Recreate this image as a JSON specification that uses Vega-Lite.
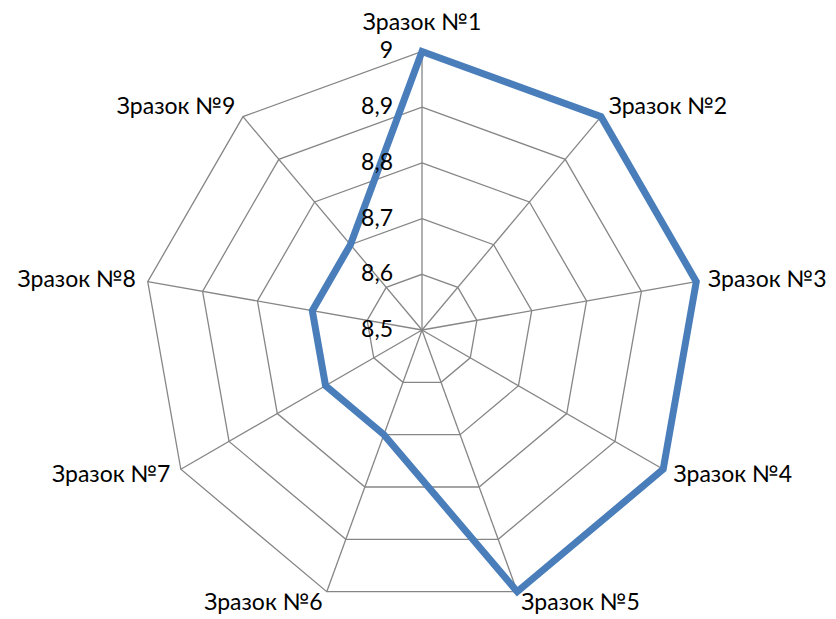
{
  "$schema": "https://vega.github.io/schema/vega-lite/v6.json",
  "width": 836,
  "height": 619,
  "padding": 0,
  "autosize": {"type": "none"},
  "background": "white",
  "config": {"view": {"stroke": null}, "text": {"font": "Lato", "fontSize": 23, "color": "#000000"}},
  "datasets": {
    "series": [
      {"sample": "Зразок №1", "i": 0, "value": 9.0},
      {"sample": "Зразок №2", "i": 1, "value": 9.0},
      {"sample": "Зразок №3", "i": 2, "value": 9.0},
      {"sample": "Зразок №4", "i": 3, "value": 9.0},
      {"sample": "Зразок №5", "i": 4, "value": 9.0},
      {"sample": "Зразок №6", "i": 5, "value": 8.7},
      {"sample": "Зразок №7", "i": 6, "value": 8.7},
      {"sample": "Зразок №8", "i": 7, "value": 8.7},
      {"sample": "Зразок №9", "i": 8, "value": 8.7}
    ],
    "grid": [
      {"level": 8.6, "i": [0, 1, 2, 3, 4, 5, 6, 7, 8]},
      {"level": 8.7, "i": [0, 1, 2, 3, 4, 5, 6, 7, 8]},
      {"level": 8.8, "i": [0, 1, 2, 3, 4, 5, 6, 7, 8]},
      {"level": 8.9, "i": [0, 1, 2, 3, 4, 5, 6, 7, 8]},
      {"level": 9.0, "i": [0, 1, 2, 3, 4, 5, 6, 7, 8]}
    ],
    "ticks": [
      {"level": 8.5, "label": "8,5"},
      {"level": 8.6, "label": "8,6"},
      {"level": 8.7, "label": "8,7"},
      {"level": 8.8, "label": "8,8"},
      {"level": 8.9, "label": "8,9"},
      {"level": 9.0, "label": "9"}
    ]
  },
  "layer": [
    {
      "data": {"name": "grid"},
      "transform": [
        {"flatten": ["i"]},
        {"calculate": "(datum.level-8.5)/0.5*sin(datum.i*2*PI/9)", "as": "x"},
        {"calculate": "(datum.level-8.5)/0.5*cos(datum.i*2*PI/9)", "as": "y"}
      ],
      "mark": {"type": "line", "interpolate": "linear-closed", "stroke": "#868686", "strokeWidth": 1.3},
      "encoding": {
        "x": {"field": "x", "type": "quantitative", "scale": {"domain": [-1.5153, 1.4865], "nice": false, "zero": false}, "axis": null},
        "y": {"field": "y", "type": "quantitative", "scale": {"domain": [-1.0377, 1.1849], "nice": false, "zero": false}, "axis": null},
        "detail": {"field": "level"},
        "order": {"field": "i", "type": "quantitative"}
      }
    },
    {
      "data": {"name": "grid"},
      "transform": [
        {"filter": "datum.level == 9"},
        {"flatten": ["i"]},
        {"calculate": "(datum.level-8.5)/0.5*sin(datum.i*2*PI/9)", "as": "x"},
        {"calculate": "(datum.level-8.5)/0.5*cos(datum.i*2*PI/9)", "as": "y"}
      ],
      "mark": {"type": "rule", "stroke": "#868686", "strokeWidth": 1.3},
      "encoding": {
        "x": {"field": "x", "type": "quantitative", "scale": {"domain": [-1.5153, 1.4865], "nice": false, "zero": false}, "axis": null},
        "y": {"field": "y", "type": "quantitative", "scale": {"domain": [-1.0377, 1.1849], "nice": false, "zero": false}, "axis": null},
        "x2": {"datum": 0},
        "y2": {"datum": 0}
      }
    },
    {
      "data": {"name": "series"},
      "transform": [
        {"calculate": "(datum.value-8.5)/0.5*sin(datum.i*2*PI/9)", "as": "x"},
        {"calculate": "(datum.value-8.5)/0.5*cos(datum.i*2*PI/9)", "as": "y"}
      ],
      "mark": {"type": "line", "interpolate": "linear-closed", "stroke": "#4a7ebb", "strokeWidth": 7, "strokeJoin": "miter"},
      "encoding": {
        "x": {"field": "x", "type": "quantitative", "scale": {"domain": [-1.5153, 1.4865], "nice": false, "zero": false}, "axis": null},
        "y": {"field": "y", "type": "quantitative", "scale": {"domain": [-1.0377, 1.1849], "nice": false, "zero": false}, "axis": null},
        "order": {"field": "i", "type": "quantitative"}
      }
    },
    {
      "data": {"name": "ticks"},
      "transform": [
        {"calculate": "0", "as": "x"},
        {"calculate": "(datum.level-8.5)/0.5", "as": "y"}
      ],
      "mark": {"type": "text", "align": "right", "baseline": "middle", "dx": -29},
      "encoding": {
        "x": {"field": "x", "type": "quantitative", "scale": {"domain": [-1.5153, 1.4865], "nice": false, "zero": false}, "axis": null},
        "y": {"field": "y", "type": "quantitative", "scale": {"domain": [-1.0377, 1.1849], "nice": false, "zero": false}, "axis": null},
        "text": {"field": "label"}
      }
    },
    {
      "data": {"name": "series"},
      "transform": [
        {"filter": "datum.i == 0"},
        {"calculate": "1.043*sin(datum.i*2*PI/9)", "as": "x"},
        {"calculate": "1.043*cos(datum.i*2*PI/9)", "as": "y"}
      ],
      "mark": {"type": "text", "align": "center", "baseline": "alphabetic", "dy": -10},
      "encoding": {
        "x": {"field": "x", "type": "quantitative", "scale": {"domain": [-1.5153, 1.4865], "nice": false, "zero": false}, "axis": null},
        "y": {"field": "y", "type": "quantitative", "scale": {"domain": [-1.0377, 1.1849], "nice": false, "zero": false}, "axis": null},
        "text": {"field": "sample"}
      }
    },
    {
      "data": {"name": "series"},
      "transform": [
        {"filter": "datum.i >= 1 && datum.i <= 4"},
        {"calculate": "1.043*sin(datum.i*2*PI/9)", "as": "x"},
        {"calculate": "1.043*cos(datum.i*2*PI/9)", "as": "y"}
      ],
      "mark": {"type": "text", "align": "left", "baseline": "middle"},
      "encoding": {
        "x": {"field": "x", "type": "quantitative", "scale": {"domain": [-1.5153, 1.4865], "nice": false, "zero": false}, "axis": null},
        "y": {"field": "y", "type": "quantitative", "scale": {"domain": [-1.0377, 1.1849], "nice": false, "zero": false}, "axis": null},
        "text": {"field": "sample"}
      }
    },
    {
      "data": {"name": "series"},
      "transform": [
        {"filter": "datum.i >= 5"},
        {"calculate": "1.043*sin(datum.i*2*PI/9)", "as": "x"},
        {"calculate": "1.043*cos(datum.i*2*PI/9)", "as": "y"}
      ],
      "mark": {"type": "text", "align": "right", "baseline": "middle"},
      "encoding": {
        "x": {"field": "x", "type": "quantitative", "scale": {"domain": [-1.5153, 1.4865], "nice": false, "zero": false}, "axis": null},
        "y": {"field": "y", "type": "quantitative", "scale": {"domain": [-1.0377, 1.1849], "nice": false, "zero": false}, "axis": null},
        "text": {"field": "sample"}
      }
    }
  ]
}
